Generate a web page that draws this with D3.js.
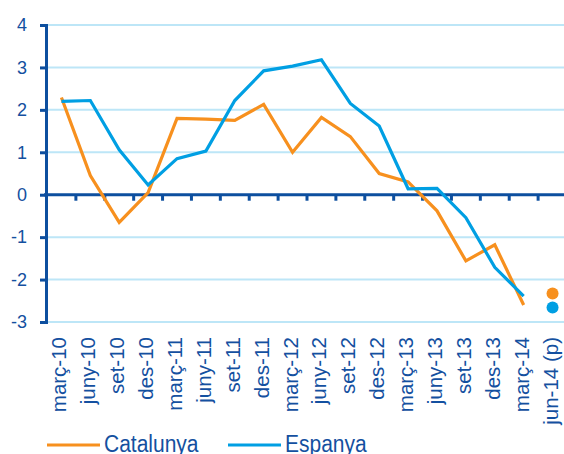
<!DOCTYPE html>
<html lang="en">
<head>
<meta charset="UTF-8">
<title>Catalunya / Espanya</title>
<script src="https://d3js.org/d3.v7.min.js"></script>
<style>
    body { margin: 0; background: #fff; }
    svg { font-family: "Liberation Sans", Arial, sans-serif; }
    .lbl { fill: #1450a0; }
</style>
</head>
<body>
<svg id="canvas" width="564" height="454"></svg>
<script>
    let categories = ["març-10","juny-10","set-10","des-10","març-11","juny-11","set-11","des-11",
        "març-12","juny-12","set-12","des-12","març-13","juny-13","set-13","des-13","març-14","jun-14 (p)"]
    let catalunya = [2.29, 0.45, -0.65, 0.05, 1.8, 1.78, 1.75, 2.13, 1.0, 1.82, 1.37, 0.5, 0.3, -0.38, -1.56, -1.18, -2.6]
    let espanya = [2.2, 2.22, 1.06, 0.23, 0.85, 1.03, 2.22, 2.92, 3.03, 3.18, 2.15, 1.62, 0.14, 0.15, -0.54, -1.71, -2.39]
    let catalunyaForecast = [-2.33]
    let espanyaForecast = [-2.66]
    let yTicks = [-3, -2, -1, 0, 1, 2, 3, 4]

    let orange = "#f7901e", blue = "#009fe3", axisBlue = "#0d4f9f", gridBlue = "#bde6f7"

    let svg = d3.select('svg')
    let x = d3.scaleBand().domain(categories).range([47, 567])
    let y = d3.scaleLinear().domain([-3, 4]).range([322, 25])

    // gridlines (not at zero, the axis sits there)
    svg.append('g').selectAll('line')
        .data(yTicks.filter(d => d != 0))
        .enter().append('line')
        .attr('x1', 46).attr('x2', 564)
        .attr('y1', d => y(d)).attr('y2', d => y(d))
        .attr('stroke', gridBlue).attr('stroke-width', 2)

    // y axis
    let yAxis = svg.append('g')
        .attr('transform', 'translate(46,0)')
        .call(d3.axisLeft(y).tickValues(yTicks).tickSize(6).tickFormat(d3.format('d')))
    yAxis.select('.domain').attr('stroke', axisBlue).attr('stroke-width', 3)
    yAxis.selectAll('.tick line').attr('stroke', axisBlue).attr('stroke-width', 3)
    yAxis.selectAll('.tick text').attr('class', 'lbl').attr('fill', '#1450a0')
        .attr('font-size', 18).attr('x', -19)
        .text(d => d < 0 ? '-' + Math.abs(d) : d)

    // x axis at zero
    let boundaries = categories.slice(1).map(c => x(c))
    svg.append('line')
        .attr('x1', 44).attr('x2', 564)
        .attr('y1', y(0)).attr('y2', y(0))
        .attr('stroke', axisBlue).attr('stroke-width', 3)
    svg.append('g').selectAll('line')
        .data(boundaries)
        .enter().append('line')
        .attr('x1', d => d).attr('x2', d => d)
        .attr('y1', y(0)).attr('y2', y(0) + 6)
        .attr('stroke', axisBlue).attr('stroke-width', 3)

    // category labels
    svg.append('g').selectAll('text')
        .data(categories)
        .enter().append('text')
        .attr('class', 'lbl')
        .attr('transform', d => 'translate(' + (x(d) + x.bandwidth() / 2 + 5) + ',337) rotate(-90)')
        .attr('text-anchor', 'end')
        .attr('font-size', 20.5)
        .text(d => d)

    let line = d3.line()
        .x((d, i) => x(categories[i]) + x.bandwidth() / 2)
        .y(d => y(d))

    svg.append('path').datum(catalunya)
        .attr('d', line).attr('fill', 'none')
        .attr('stroke', orange).attr('stroke-width', 3.2).attr('stroke-linejoin', 'miter')
    svg.append('path').datum(espanya)
        .attr('d', line).attr('fill', 'none')
        .attr('stroke', blue).attr('stroke-width', 3.2).attr('stroke-linejoin', 'miter')

    let last = categories[categories.length - 1]
    svg.append('circle')
        .attr('cx', x(last) + x.bandwidth() / 2).attr('cy', y(catalunyaForecast[0]))
        .attr('r', 6).attr('fill', orange)
    svg.append('circle')
        .attr('cx', x(last) + x.bandwidth() / 2).attr('cy', y(espanyaForecast[0]))
        .attr('r', 6).attr('fill', blue)

    // legend
    let legend = [["Catalunya", orange, 47], ["Espanya", blue, 228]]
    legend.forEach(function (l) {
        svg.append('line')
            .attr('x1', l[2]).attr('x2', l[2] + 53)
            .attr('y1', 445).attr('y2', 445)
            .attr('stroke', l[1]).attr('stroke-width', 3)
        svg.append('text')
            .attr('class', 'lbl')
            .attr('transform', 'translate(' + (l[2] + 57) + ',452) scale(1,1.1)')
            .attr('font-size', 21)
            .text(l[0])
    })
</script>
</body>
</html>
